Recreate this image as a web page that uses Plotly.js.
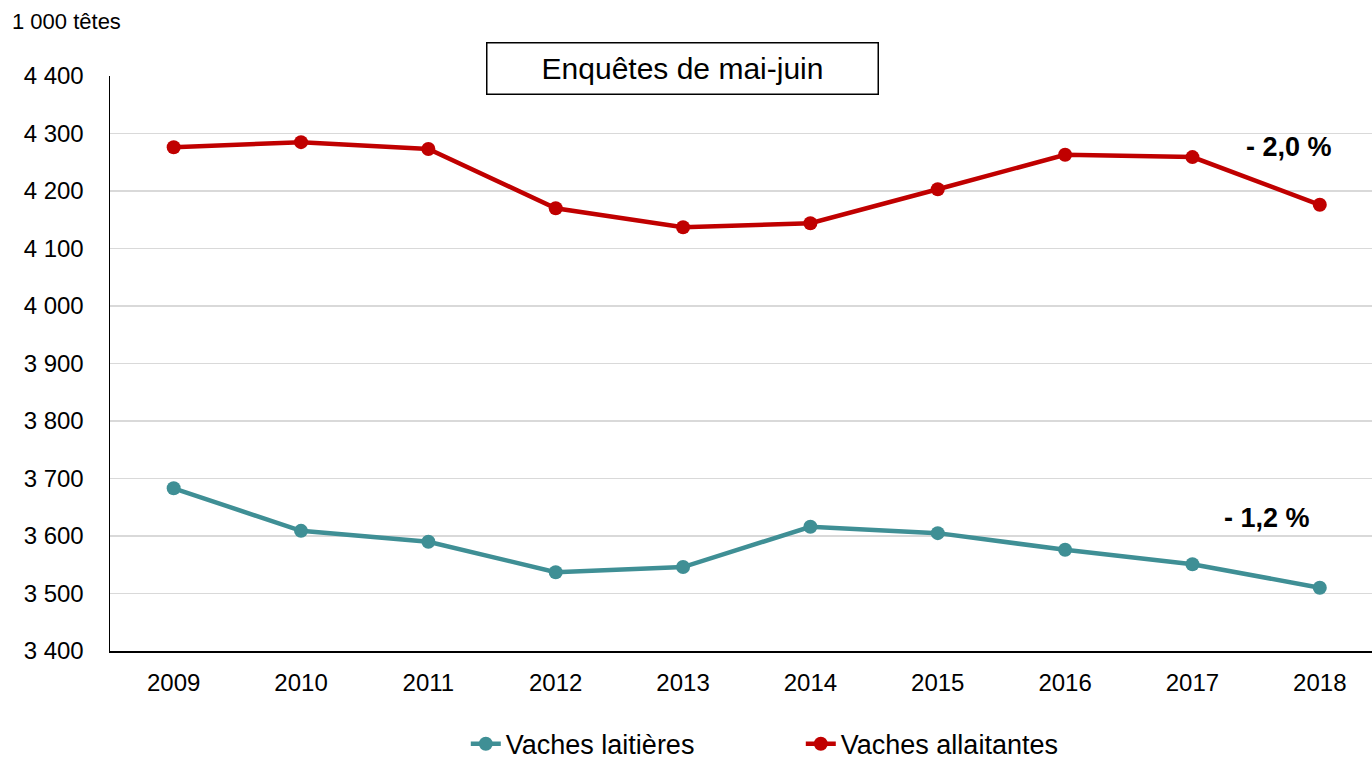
<!DOCTYPE html>
<html>
<head>
<meta charset="utf-8">
<script src="https://cdn.plot.ly/plotly-3.0.1.min.js"></script>
<style>html,body{margin:0;padding:0;background:#fff;}#chart{width:1372px;height:761px;}</style>
</head>
<body>
<div id="chart"></div>
<script>
const years = ["2009","2010","2011","2012","2013","2014","2015","2016","2017","2018"];
const laitieres = [3683, 3609, 3590, 3537, 3546, 3616, 3605, 3576, 3551, 3510];
const allaitantes = [4276, 4285, 4273, 4170, 4137, 4144, 4203, 4263, 4259, 4176];
const nameLait = "Vaches laitières";
const nameAllait = "Vaches allaitantes";
const labelLait = "- 1,2 %";
const labelAllait = "- 2,0 %";
const teal = "#3f8f95";
const red = "#c00000";
const font = "Liberation Sans, Arial, sans-serif";

const traces = [
  {x: years, y: laitieres, name: nameLait, type: "scatter", mode: "lines+markers",
   line: {color: teal, width: 4.5}, marker: {color: teal, size: 14}},
  {x: years, y: allaitantes, name: nameAllait, type: "scatter", mode: "lines+markers",
   line: {color: red, width: 4.5}, marker: {color: red, size: 14}}
];

const layout = {
  width: 1372, height: 761,
  margin: {l: 110, r: 0, t: 76, b: 110, autoexpand: false},
  paper_bgcolor: "#fff", plot_bgcolor: "#fff",
  separators: ", ",
  font: {family: font, color: "#000", size: 24},
  showlegend: true,
  legend: {orientation: "h", xref: "container", yref: "container", x: 0.3395, xanchor: "left",
           y: 0.022, yanchor: "middle", entrywidth: 290, entrywidthmode: "pixels",
           font: {size: 27, family: font}, tracegroupgap: 0},
  xaxis: {type: "category", range: [-0.5, 9.41], showgrid: false, showline: true,
          linecolor: "#000", linewidth: 1.5, ticks: "", tickfont: {size: 24}, zeroline: false,
          ticklabelstandoff: 10, fixedrange: true},
  yaxis: {range: [3400, 4400], dtick: 100, tickformat: ",d", showgrid: true, gridcolor: "#d9d9d9",
          gridwidth: 1.5, showline: true, linecolor: "#000", linewidth: 1.5, ticks: "",
          ticklabelstandoff: 20, tickfont: {size: 24}, zeroline: false, fixedrange: true},
  annotations: [
    {xref: "paper", yref: "paper", x: 0.4537, y: 1.0, yshift: 7.5, xanchor: "center", yanchor: "middle",
     text: "Enquêtes de mai-juin", showarrow: false, font: {size: 30, family: font},
     bgcolor: "#fff", bordercolor: "#000", borderwidth: 1.5, borderpad: 0,
     width: 390, height: 50},
    {xref: "paper", yref: "paper", x: -100 / 1262, y: 1 + 55 / 575, xanchor: "left", yanchor: "middle",
     text: "1 000 têtes", showarrow: false, font: {size: 22, family: font}},
    {xref: "x", yref: "y", x: 9, y: 4276, xanchor: "center", yanchor: "middle", xshift: -31,
     text: "<b>" + labelAllait + "</b>", showarrow: false, font: {size: 27, family: font}},
    {xref: "x", yref: "y", x: 9, y: 3631, xanchor: "center", yanchor: "middle", xshift: -53,
     text: "<b>" + labelLait + "</b>", showarrow: false, font: {size: 27, family: font}}
  ]
};

Plotly.newPlot("chart", traces, layout, {displayModeBar: false, staticPlot: true});
</script>
</body>
</html>
